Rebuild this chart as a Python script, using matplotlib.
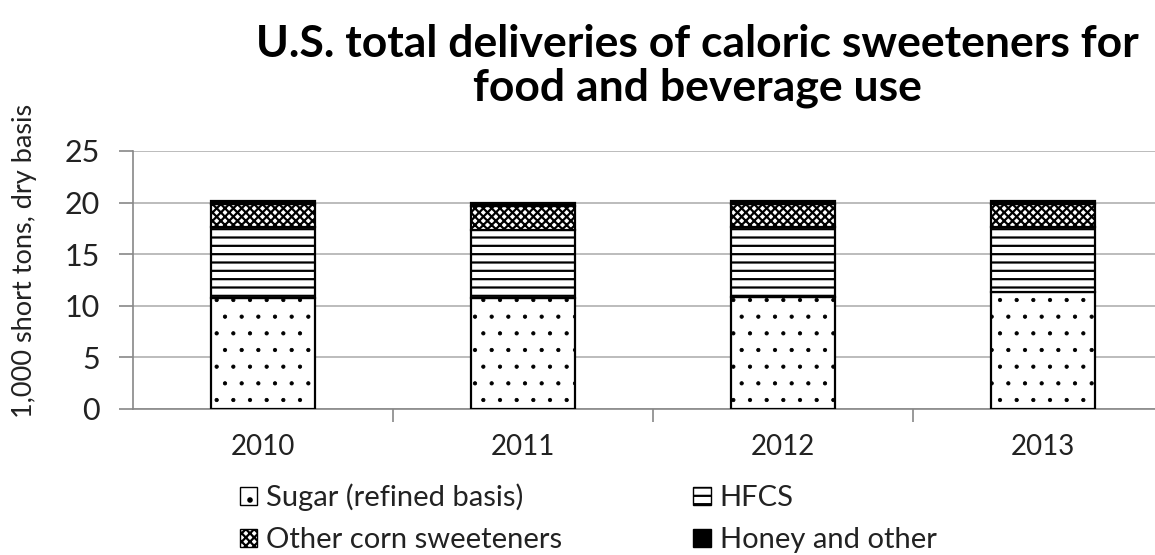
import matplotlib
matplotlib.use("Agg")
import matplotlib.pyplot as plt
from matplotlib.patches import Patch
import numpy as np

years = ["2010", "2011", "2012", "2013"]
sugar = [10.8, 10.8, 10.85, 11.3]
hfcs = [6.8, 6.5, 6.75, 6.3]
other_corn = [2.3, 2.4, 2.3, 2.3]
honey = [0.3, 0.3, 0.3, 0.3]
y_ticks = [0, 5, 10, 15, 20, 25]

plt.rcParams["font.family"] = ["Lato", "DejaVu Sans"]
plt.rcParams["hatch.linewidth"] = 1.6

fig = plt.figure(figsize=(11.55, 5.55), dpi=100)
W, H = 1155, 555
ax = fig.add_axes([133 / W, 1 - 409 / H, 1040 / W, 258 / H])

x = np.arange(len(years))
w = 0.4
edge = dict(edgecolor="black", linewidth=1.6)

b0 = np.zeros(len(years))
with plt.rc_context({"hatch.linewidth": 0.6}):
    ax.bar(x, sugar, w, bottom=b0, color="white", hatch=".", **edge, zorder=3)
b1 = b0 + np.array(sugar)
ax.bar(x, hfcs, w, bottom=b1, color="white", hatch="--", **edge, zorder=3)
b2 = b1 + np.array(hfcs)
ax.bar(x, other_corn, w, bottom=b2, color="white", hatch="xxxx", **edge, zorder=3)
b3 = b2 + np.array(other_corn)
ax.bar(x, honey, w, bottom=b3, color="black", **edge, zorder=3)

ax.set_xlim(-0.5, 3.5)
ax.set_ylim(0, 25)
ax.set_yticks(y_ticks)
ax.set_yticklabels([str(t) for t in y_ticks], fontsize=22, color="#222222")
ax.yaxis.grid(True, color="#b0b0b0", linewidth=1.2, zorder=0)
ax.set_axisbelow(True)

ax.set_xticks(x)
ax.set_xticklabels(years, fontsize=20, color="#222222")
ax.tick_params(axis="x", which="major", length=0, pad=18)
ax.set_xticks([0.5, 1.5, 2.5], minor=True)
ax.tick_params(axis="x", which="minor", length=9, width=1.2, color="#888888", direction="out")
ax.tick_params(axis="y", length=10, width=1.2, color="#888888", direction="out", pad=14)

for s in ["top", "right"]:
    ax.spines[s].set_visible(False)
for s in ["left", "bottom"]:
    ax.spines[s].set_color("#888888")
    ax.spines[s].set_linewidth(1.2)

ax.set_ylabel("1,000 short tons, dry basis", fontsize=19.5, color="#222222")
ax.yaxis.set_label_coords(-0.092, 0.575)

fig.text(697 / W, 1 - 66 / H, "U.S. total deliveries of caloric sweeteners for\nfood and beverage use",
         ha="center", va="center", fontsize=32, fontweight="bold", linespacing=1.12, color="black")

with plt.rc_context({"hatch.linewidth": 0.6}):
    sugar_handle = Patch(facecolor="white", edgecolor="black", hatch=".", label="Sugar (refined basis)")
handles = [
    sugar_handle,
    Patch(facecolor="white", edgecolor="black", hatch="xxxx", label="Other corn sweeteners"),
    Patch(facecolor="white", edgecolor="black", hatch="--", label="HFCS"),
    Patch(facecolor="black", edgecolor="black", label="Honey and other"),
]
fig.legend(handles=handles, ncol=2, loc="upper left", bbox_to_anchor=(228 / W, 1 - 472 / H),
           frameon=False, fontsize=21, handlelength=0.6, handleheight=0.6, handletextpad=0.3,
           columnspacing=4.5, labelspacing=0.55, labelcolor="#222222", borderaxespad=0)

fig.savefig("out.png", dpi=100)
